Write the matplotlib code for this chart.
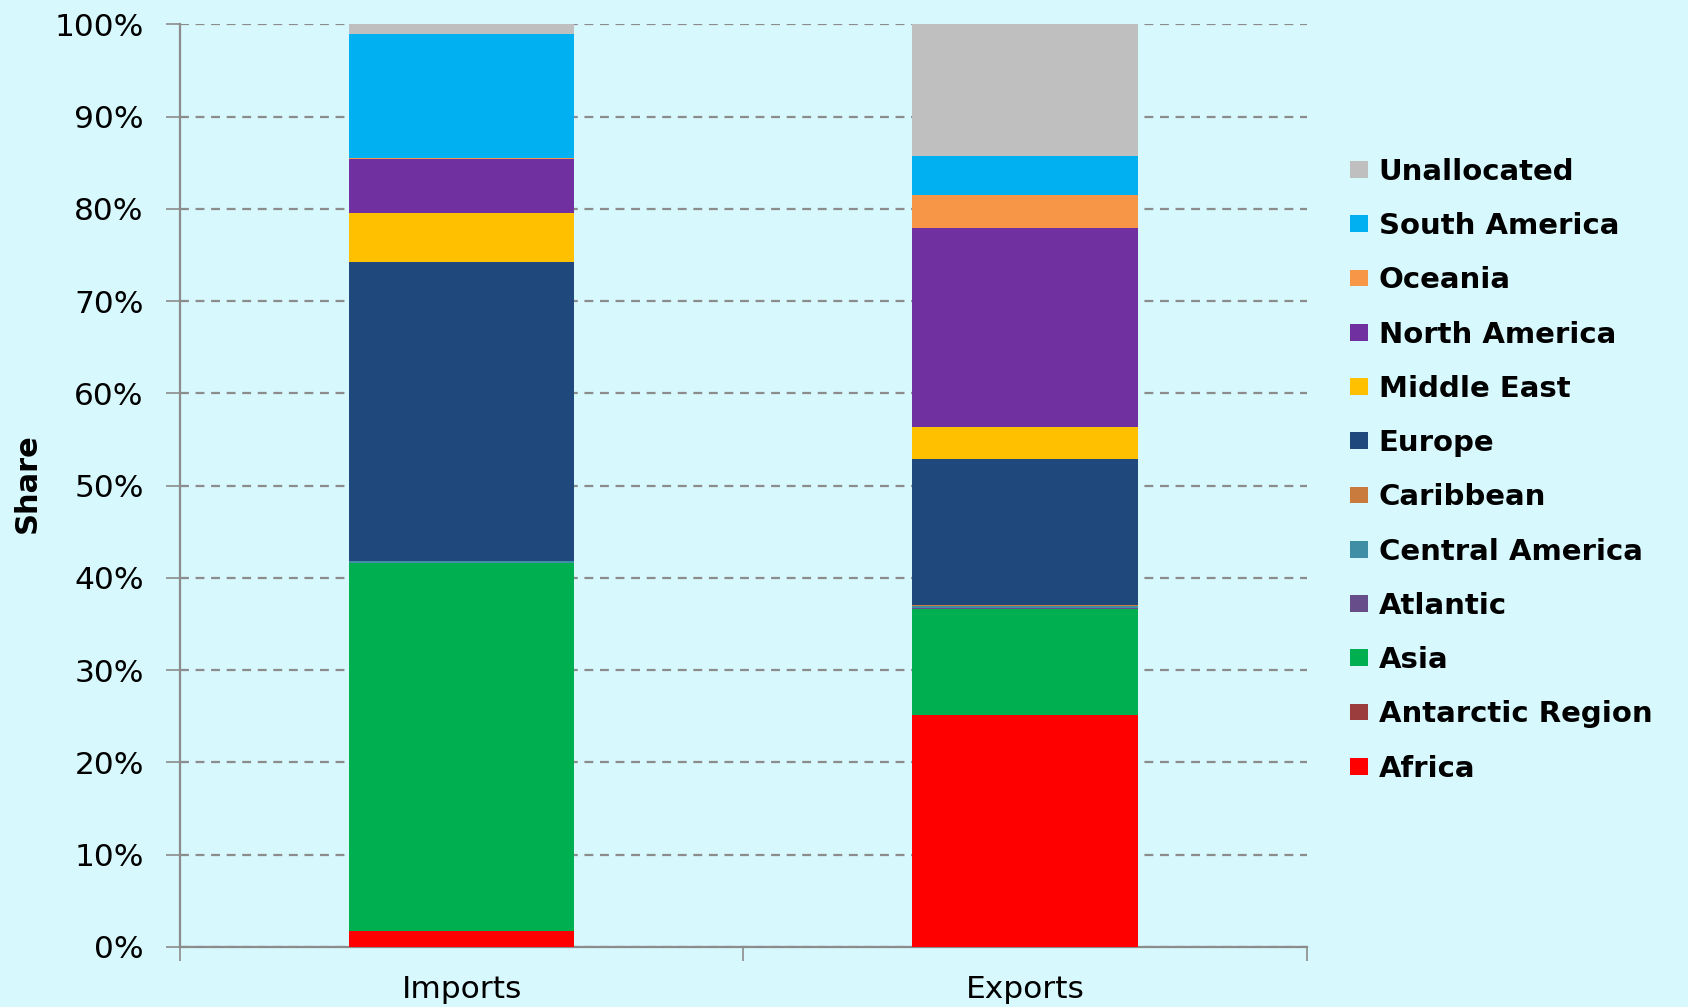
import matplotlib
matplotlib.use("Agg")
import matplotlib.pyplot as plt
import numpy as np

plt.rcParams["font.family"] = ["DejaVu Sans"]

categories = ["Imports", "Exports"]
regions = ["Africa", "Antarctic Region", "Asia", "Atlantic", "Central America",
           "Caribbean", "Europe", "Middle East", "North America", "Oceania",
           "South America", "Unallocated"]
# shares (%) per region: [Imports, Exports]
africa = [1.7, 25.1]
antarctic = [0.0, 0.0]
asia = [39.9, 11.5]
atlantic = [0.05, 0.1]
central_america = [0.15, 0.3]
caribbean = [0.05, 0.05]
europe = [32.4, 15.85]
middle_east = [5.3, 3.5]
north_america = [5.8, 21.5]
oceania = [0.15, 3.6]
south_america = [13.4, 4.2]
unallocated = [1.1, 14.3]

series = [africa, antarctic, asia, atlantic, central_america, caribbean, europe,
          middle_east, north_america, oceania, south_america, unallocated]
colors = ["#FF0000", "#9B3D3D", "#00B050", "#674E8A", "#3F8EA6", "#C97B3D",
          "#1F497D", "#FFC000", "#7030A0", "#F79646", "#00B0F0", "#BFBFBF"]

bg = "#D7F8FC"
fig = plt.figure(figsize=(16.88, 10.07), dpi=100, facecolor=bg)
ax = fig.add_axes([0.1066, 0.0596, 0.6674, 0.9163])
ax.set_facecolor(bg)

x = np.arange(len(categories))
bottom = np.zeros(len(categories))
for name, vals, c in zip(regions, series, colors):
    v = np.array(vals) / 100
    ax.bar(x, v, 0.4, bottom=bottom, color=c, label=name, zorder=3, linewidth=0)
    bottom += v

ax.set_xlim(-0.5, 1.5)
ax.set_ylim(0, 1)
ax.set_yticks(np.arange(0, 1.01, 0.1))
ax.set_yticklabels([f"{int(round(t*100))}%" for t in np.arange(0, 1.01, 0.1)], fontsize=22.5)
ax.yaxis.grid(True, linestyle=(0, (4, 3)), color="#8C8C8C", linewidth=1.6, zorder=0)

ax.set_xticks([-0.5, 0.5, 1.5])
ax.set_xticklabels([])
ax.set_xticks(x, minor=True)
ax.set_xticklabels(categories, minor=True, fontsize=22.5)
ax.tick_params(axis="x", which="minor", length=0, pad=20)
ax.tick_params(axis="x", which="major", length=10, color="#8C8C8C", width=1.2)
ax.tick_params(axis="y", length=10, color="#8C8C8C", width=1.2, pad=16)

for s in ["top", "right"]:
    ax.spines[s].set_visible(False)
for s in ["left", "bottom"]:
    ax.spines[s].set_color("#8C8C8C")
    ax.spines[s].set_linewidth(1.6)

fig.text(0.016, 0.52, "Share", rotation=90, fontsize=22, fontweight="bold",
         va="center", ha="center")

handles, labels = ax.get_legend_handles_labels()
fig.legend(handles[::-1], labels[::-1], loc="center left",
           bbox_to_anchor=(0.8, 0.533), frameon=False,
           prop={"size": 21, "weight": "bold"}, handlelength=0.62,
           handleheight=0.5, handletextpad=0.35, labelspacing=0.90,
           borderpad=0, borderaxespad=0)

fig.savefig("out.png", dpi=100, facecolor=bg)
